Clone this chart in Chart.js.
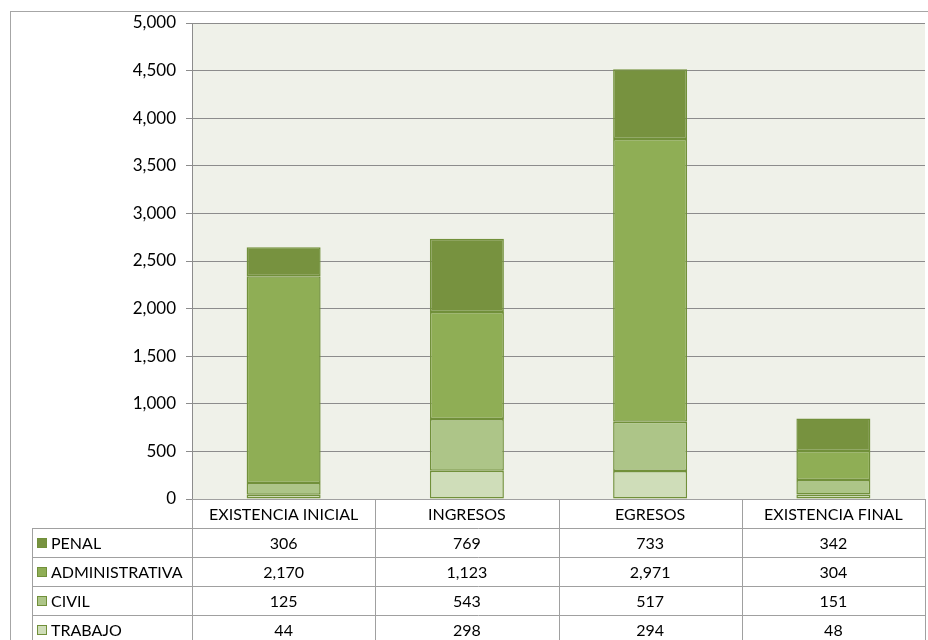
<!DOCTYPE html>
<html>
<head>
<meta charset="utf-8">
<script src="https://cdn.jsdelivr.net/npm/chart.js@4"></script>
<style>
  html, body { margin: 0; padding: 0; background: #fff; }
  #wrap { width: 928px; height: 640px; position: relative; }
</style>
</head>
<body>
<div id="wrap"><canvas id="grafico" width="928" height="640"></canvas></div>
<script>
// categorias y series
const categorias = ['EXISTENCIA INICIAL', 'INGRESOS', 'EGRESOS', 'EXISTENCIA FINAL'];
const penal = [306, 769, 733, 342];
const administrativa = [2170, 1123, 2971, 304];
const civil = [125, 543, 517, 151];
const trabajo = [44, 298, 294, 48];
const ticksY = [0, 500, 1000, 1500, 2000, 2500, 3000, 3500, 4000, 4500, 5000];

const FUENTE = 'Lato, "Liberation Sans", sans-serif';
const colores = {
    PENAL: '#77923f',
    ADMINISTRATIVA: '#8fae55',
    CIVIL: '#adc588',
    TRABAJO: '#cfddb9'
};
const bordeBarra = '#71903a';

// orden de apilado: de abajo hacia arriba
const series = [
    { label: 'TRABAJO', data: trabajo },
    { label: 'CIVIL', data: civil },
    { label: 'ADMINISTRATIVA', data: administrativa },
    { label: 'PENAL', data: penal }
];

const fmt = n => n.toLocaleString('en-US');

// fondo del area de trazado y marco exterior
const fondoPlugin = {
    id: 'fondo',
    beforeDraw(chart) {
        const { ctx, chartArea } = chart;
        ctx.save();
        ctx.fillStyle = '#eff1e9';
        ctx.fillRect(chartArea.left, chartArea.top, chartArea.right - chartArea.left, chartArea.bottom - chartArea.top);
        ctx.strokeStyle = '#a6a6a6';
        ctx.lineWidth = 1;
        ctx.strokeRect(10.5, 11.5, 940, 660);
        ctx.restore();
    }
};

// tabla de datos debajo del grafico
const tablaPlugin = {
    id: 'tabla',
    afterDraw(chart) {
        const { ctx, chartArea } = chart;
        const x = chart.scales.x;
        const izq = 32, top = chartArea.bottom, filaH = 29;
        const ancho = (chartArea.right - chartArea.left) / categorias.length;
        const filas = [...series].reverse();

        ctx.save();
        ctx.strokeStyle = '#a0a0a0';
        ctx.lineWidth = 1;
        ctx.font = '16px ' + FUENTE;
        ctx.fillStyle = '#000';
        ctx.textBaseline = 'middle';

        // encabezado
        ctx.beginPath();
        ctx.moveTo(chartArea.left, top + 0.5);
        ctx.lineTo(chartArea.right, top + 0.5);
        ctx.stroke();
        ctx.textAlign = 'center';
        categorias.forEach((c, i) => {
            ctx.fillText(c, x.getPixelForValue(i), top + filaH / 2 + 1);
        });

        // lineas horizontales de filas
        for (let r = 1; r <= filas.length; r++) {
            const y = Math.round(top + r * filaH) + 0.5;
            ctx.beginPath();
            ctx.moveTo(izq, y);
            ctx.lineTo(chartArea.right, y);
            ctx.stroke();
        }
        // lineas verticales
        ctx.beginPath();
        ctx.moveTo(izq + 0.5, top + filaH);
        ctx.lineTo(izq + 0.5, 660);
        for (let i = 0; i <= categorias.length; i++) {
            const xx = Math.round(chartArea.left + i * ancho) + 0.5;
            ctx.moveTo(xx, top);
            ctx.lineTo(xx, 660);
        }
        ctx.stroke();

        filas.forEach((s, r) => {
            const yc = top + (r + 1) * filaH + filaH / 2 + 1;
            ctx.fillStyle = colores[s.label];
            ctx.fillRect(37, Math.round(yc - 6), 10, 10);
            ctx.strokeStyle = bordeBarra;
            ctx.strokeRect(37.5, Math.round(yc - 6) + 0.5, 9, 9);
            ctx.fillStyle = '#000';
            ctx.textAlign = 'left';
            ctx.fillText(s.label, 51, yc);
            ctx.textAlign = 'center';
            s.data.forEach((v, i) => ctx.fillText(fmt(v), x.getPixelForValue(i), yc));
        });
        ctx.restore();
    }
};

new Chart(document.getElementById('grafico'), {
    type: 'bar',
    data: {
        labels: categorias,
        datasets: series.map(s => ({
            label: s.label,
            data: s.data,
            backgroundColor: colores[s.label],
            borderColor: bordeBarra,
            borderWidth: 1.5,
            borderSkipped: false,
            inflateAmount: 0,
            barThickness: 74
        }))
    },
    options: {
        responsive: false,
        animation: false,
        layout: { padding: { top: 23, bottom: 141, left: 0, right: 3 } },
        plugins: { legend: { display: false }, tooltip: { enabled: false } },
        scales: {
            x: { stacked: true, display: false },
            y: {
                stacked: true,
                min: 0,
                max: 5000,
                afterFit(scale) { scale.width = 192; },
                afterBuildTicks(scale) { scale.ticks = ticksY.map(v => ({ value: v })); },
                ticks: {
                    color: '#000',
                    padding: 10,
                    font: { family: FUENTE, size: 17 },
                    callback: v => fmt(v)
                },
                grid: { color: '#8c8c8c', tickLength: 6, drawTicks: true },
                border: { color: '#8c8c8c' }
            }
        }
    },
    plugins: [fondoPlugin, tablaPlugin]
});
</script>
</body>
</html>
